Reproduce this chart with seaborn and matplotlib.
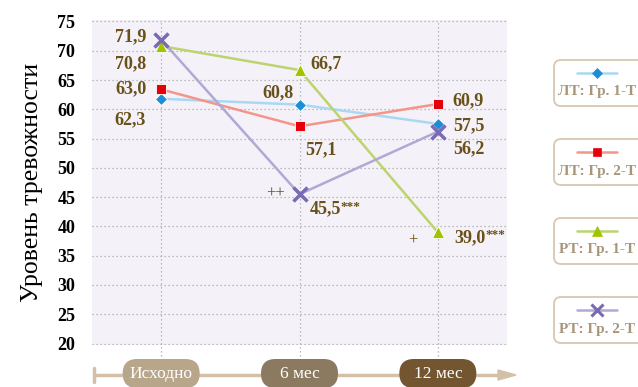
import matplotlib
matplotlib.use("Agg")
import matplotlib.pyplot as plt
import seaborn as sns
import pandas as pd
from matplotlib.patches import FancyBboxPatch, FancyArrow
from matplotlib.lines import Line2D

# Data
PERIODS = ["Исходно", "6 мес", "12 мес"]
SERIES = ["ЛТ: Гр. 1-Т", "ЛТ: Гр. 2-Т", "РТ: Гр. 1-Т", "РТ: Гр. 2-Т"]
# plotted positions
LT_1T = [61.8, 60.8, 57.5]
LT_2T = [63.4, 57.1, 60.9]
RT_1T = [70.8, 66.7, 39.0]
RT_2T = [71.9, 45.5, 56.2]
VALUES = [LT_1T, LT_2T, RT_1T, RT_2T]
# value labels printed on the chart
LABELS = [
    ["62,3", "60,8", "57,5"],
    ["63,0", "57,1", "60,9"],
    ["70,8", "66,7", "39,0"],
    ["71,9", "45,5", "56,2"],
]
SIG_MARKS = {(3, 1): ("***", "++"), (2, 2): ("***", "+")}

# Styles
LINE_COLORS = ["#a9d9f2", "#f4958b", "#bcd46e", "#b2a8d6"]
MARK_COLORS = ["#1a8fd8", "#e6000c", "#a2c400", "#7a6ab2"]
MARKERS = ["D", "s", "^", "x"]
MSIZES = [6, 6.5, 8, 10]
LABEL_COLOR = "#6a5119"
PILL_COLORS = ["#b8a68a", "#8b7a5f", "#735530"]
TL_COLOR = "#d3c0a7"

# label offsets in pixels (dx, dy, ha)
OFFSETS = [
    [(-15, -21, "right"), (-6, 12, "right"), (15, -2, "left")],
    [(-15, 1, "right"), (6, -23, "left"), (15, 3, "left")],
    [(-15, -18, "right"), (11, 6, "left"), (16, -5, "left")],
    [(-15, 3, "right"), (10, -15, "left"), (15, -17, "left")],
]
PLUS_OFFSETS = {(3, 1): (-24, 1), (2, 2): (-25, -8)}

rows = []
for name, vals in zip(SERIES, VALUES):
    for i, v in enumerate(vals):
        rows.append({"series": name, "x": i, "value": v})
df = pd.DataFrame(rows)

sns.set_style("white")
plt.rcParams["font.family"] = ["Liberation Serif", "DejaVu Serif"]

fig = plt.figure(figsize=(6.38, 3.87), dpi=100)
ax = fig.add_axes([92 / 638, 1 - 345 / 387, 415 / 638, 325 / 387])
ax.set_facecolor("#f4f2f8")
for s in ax.spines.values():
    s.set_visible(False)

for t in range(20, 80, 5):
    ax.axhline(t, color="#a8a8a8", lw=0.9, ls=(0, (1, 2.2)), zorder=1)
for i in range(3):
    ax.axvline(i, ymin=-0.035, ymax=1, color="#a8a8a8", lw=0.9, ls=(0, (1, 2.2)),
               zorder=1, clip_on=False)

for k, name in enumerate(SERIES):
    sub = df[df["series"] == name]
    sns.lineplot(data=sub, x="x", y="value", ax=ax, color=LINE_COLORS[k], lw=1.8,
                 marker=MARKERS[k], markersize=MSIZES[k], markerfacecolor=MARK_COLORS[k],
                 markeredgecolor=MARK_COLORS[k] if MARKERS[k] == "x" else "white",
                 markeredgewidth=2.5 if MARKERS[k] == "x" else 0.6,
                 zorder=3 + k, legend=False)
    for i, v in enumerate(VALUES[k]):
        dx, dy, ha = OFFSETS[k][i]
        t = ax.annotate(LABELS[k][i], (i, v), xytext=(dx, dy), textcoords="offset pixels",
                        ha=ha, va="center", fontsize=13, fontweight="bold", color=LABEL_COLOR)
        marks = SIG_MARKS.get((k, i))
        if marks:
            ax.annotate(marks[0], xy=(1.0, 0.98), xycoords=t, ha="left", va="top",
                        fontsize=9.5, fontweight="bold", color=LABEL_COLOR)
            px, pyy = PLUS_OFFSETS[(k, i)]
            ax.annotate(marks[1], (i, v), xytext=(px, pyy), textcoords="offset pixels",
                        ha="center", va="center", fontsize=12, color=LABEL_COLOR)

ax.set_xlim(-0.5, 2.5)
ax.set_ylim(19.75, 75.25)
ax.set_yticks(range(20, 80, 5))
ax.set_yticklabels([str(t) for t in range(20, 80, 5)], fontsize=13, fontweight="bold")
ax.tick_params(axis="y", length=0, pad=12, labelcolor="black")
ax.set_xticks([])
ax.set_xlabel("")
ax.set_ylabel("Уровень тревожности", fontsize=18.5, labelpad=10, color="black")

# timeline below plot (pixel coords -> inches)
tr = fig.dpi_scale_trans
H = 387


def py(y):
    return (H - y) / 100


fig.add_artist(Line2D([0.94, 5.0], [py(375)] * 2, color=TL_COLOR, lw=2.5, transform=tr, zorder=1))
fig.add_artist(Line2D([0.94, 0.94], [py(368), py(382)], color=TL_COLOR, lw=2.5, transform=tr, zorder=1))
fig.add_artist(FancyArrow(4.98, py(375), 0.18, 0, width=0.0, head_width=0.1, head_length=0.18,
                          length_includes_head=True, color=TL_COLOR, transform=tr, zorder=1))
for i, lab in enumerate(PERIODS):
    xc = ax.transData.transform((i, 0))[0] / 100
    pill = FancyBboxPatch((xc - 0.385, py(388)), 0.77, 0.29,
                          boxstyle="round,pad=0,rounding_size=0.145",
                          fc=PILL_COLORS[i], ec="none", transform=tr, zorder=5)
    fig.add_artist(pill)
    fig.text(xc, py(374), lab, transform=tr, ha="center", va="center",
             color="white", fontsize=12.5, zorder=6)

# legend boxes
BOX_TOPS = [60, 139, 218, 297]
for k, name in enumerate(SERIES):
    top = BOX_TOPS[k]
    box = FancyBboxPatch((5.54, py(top + 46)), 1.0, 0.46,
                         boxstyle="round,pad=0,rounding_size=0.07",
                         fc="white", ec="#d8c7b2", lw=1.3, transform=tr)
    fig.add_artist(box)
    ly = py(top + 13)
    fig.add_artist(Line2D([5.77, 6.17], [ly, ly], color=LINE_COLORS[k], lw=1.8, transform=tr))
    fig.add_artist(Line2D([5.97], [ly], marker=MARKERS[k], markersize=MSIZES[k] * 0.85,
                          color=MARK_COLORS[k], mec=MARK_COLORS[k],
                          mew=2.2 if MARKERS[k] == "x" else 0.5, transform=tr))
    fig.text(5.97, py(top + 32), name, transform=tr, ha="center", va="center",
             fontsize=11, fontweight="bold", color="#a8957a")

fig.savefig("out.png", dpi=100)
